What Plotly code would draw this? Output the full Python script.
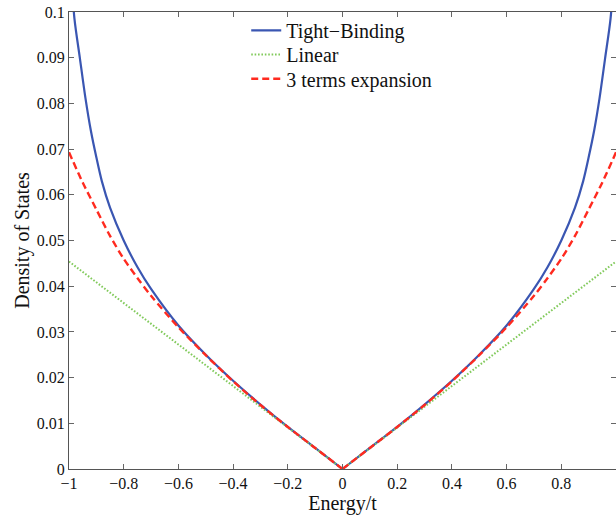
import plotly.graph_objects as go

# Energy grid (units of t) and densities
energy_tb_left = [-0.995, -0.99, -0.98, -0.96, -0.94, -0.92, -0.90, -0.88, -0.85, -0.80, -0.75, -0.70,
                  -0.60, -0.50, -0.40, -0.30, -0.20, -0.10, 0.0]
dos_tb_left = [0.117, 0.107, 0.0985, 0.0898, 0.0812, 0.0740, 0.0682, 0.0630, 0.0572, 0.0500, 0.0442, 0.0394,
               0.0314, 0.0250, 0.0193, 0.0141, 0.0092, 0.0046, 0.0]
energy_tb_right = [0.0, 0.10, 0.20, 0.30, 0.40, 0.50, 0.60, 0.70, 0.75, 0.80, 0.85, 0.88,
                   0.90, 0.92, 0.94, 0.96, 0.98, 0.99, 0.995]
dos_tb_right = [0.0, 0.0046, 0.0092, 0.0141, 0.0193, 0.0250, 0.0314, 0.0394, 0.0442, 0.0500, 0.0572, 0.0630,
                0.0682, 0.0740, 0.0812, 0.0898, 0.0985, 0.107, 0.117]

energy_lin = [-1.0, 0.0, 1.0]
dos_lin = [0.0454, 0.0, 0.0454]

energy_exp_left = [-1.0, -0.95, -0.90, -0.85, -0.80, -0.75, -0.70, -0.60, -0.50, -0.40, -0.30,
                   -0.20, -0.10, 0.0]
dos_exp_left = [0.0693, 0.0627, 0.0568, 0.0510, 0.0460, 0.0418, 0.0379, 0.0310, 0.0249, 0.0192, 0.0140,
                0.0092, 0.0046, 0.0]
energy_exp_right = [0.0, 0.10, 0.20, 0.30, 0.40, 0.50, 0.60, 0.70, 0.75, 0.80,
                    0.85, 0.90, 0.95, 1.0]
dos_exp_right = [0.0, 0.0046, 0.0092, 0.0140, 0.0192, 0.0249, 0.0310, 0.0379, 0.0418, 0.0460,
                 0.0510, 0.0568, 0.0627, 0.0693]

x_tickvals = [-1, -0.8, -0.6, -0.4, -0.2, 0, 0.2, 0.4, 0.6, 0.8]
x_ticktext = ["\u22121", "\u22120.8", "\u22120.6", "\u22120.4", "\u22120.2", "0", "0.2", "0.4", "0.6", "0.8"]
y_tickvals = [0, 0.01, 0.02, 0.03, 0.04, 0.05, 0.06, 0.07, 0.08, 0.09, 0.1]
y_ticktext = ["0", "0.01", "0.02", "0.03", "0.04", "0.05", "0.06", "0.07", "0.08", "0.09", "0.1"]

FONT = "Liberation Serif, Times New Roman, serif"
BLUE, GREEN, RED = "#3A56B2", "#82CA5C", "#FF2A1F"

fig = go.Figure()
tb_line = dict(color=BLUE, width=2.2)
fig.add_trace(go.Scatter(x=energy_tb_left, y=dos_tb_left, mode="lines", name="Tight\u2212Binding",
                         line=dict(shape="spline", smoothing=0.8, **tb_line),
                         legend="legend", legendgroup="tb"))
fig.add_trace(go.Scatter(x=energy_tb_right, y=dos_tb_right, mode="lines", name="Tight\u2212Binding",
                         line=dict(shape="spline", smoothing=0.8, **tb_line),
                         legend="legend", legendgroup="tb", showlegend=False))
fig.add_trace(go.Scatter(x=energy_lin, y=dos_lin, mode="lines", name="Linear",
                         line=dict(color=GREEN, width=2, dash="1.6px,1.8px"),
                         legend="legend2"))
exp_line = dict(color=RED, width=2.4, dash="7px,4px")
fig.add_trace(go.Scatter(x=energy_exp_left, y=dos_exp_left, mode="lines", name="3 terms expansion",
                         line=dict(shape="spline", smoothing=0.8, **exp_line),
                         legend="legend3", legendgroup="exp"))
fig.add_trace(go.Scatter(x=energy_exp_right, y=dos_exp_right, mode="lines", name="3 terms expansion",
                         line=dict(shape="spline", smoothing=0.8, **exp_line),
                         legend="legend3", legendgroup="exp", showlegend=False))

axis_common = dict(showline=True, linecolor="#555555", linewidth=1, mirror="ticks",
                   ticks="inside", ticklen=5, tickcolor="#666666", tickwidth=1,
                   showgrid=False, zeroline=False, ticklabeloverflow="allow",
                   tickfont=dict(family=FONT, size=16, color="#111111"))

legend_common = dict(x=0.324, xanchor="left", yanchor="middle",
                     bgcolor="rgba(0,0,0,0)", borderwidth=0,
                     font=dict(family=FONT, size=20, color="#111111"))

fig.update_layout(
    width=616, height=517,
    margin=dict(l=69, r=0, t=12, b=48),
    paper_bgcolor="white", plot_bgcolor="white",
    font=dict(family=FONT, color="#111111"),
    xaxis=dict(range=[-1, 1], tickmode="array", tickvals=x_tickvals, ticktext=x_ticktext,
               title=dict(text="Energy/t", font=dict(family=FONT, size=20), standoff=3),
               **axis_common),
    yaxis=dict(range=[0, 0.1], tickmode="array", tickvals=y_tickvals, ticktext=y_ticktext,
               title=dict(text="Density of States", font=dict(family=FONT, size=20), standoff=1),
               **axis_common),
    legend=dict(y=0.960, **legend_common),
    legend2=dict(y=0.907, **legend_common),
    legend3=dict(y=0.854, **legend_common),
    showlegend=True,
)

# remove the page's default body margin and scrollbars so the figure fills the window exactly
page_js = ("document.body.style.margin='0';"
           "document.body.style.overflow='hidden';"
           "document.documentElement.style.overflow='hidden';")

fig.write_html("out.html", post_script=page_js, config={"displayModeBar": False})
